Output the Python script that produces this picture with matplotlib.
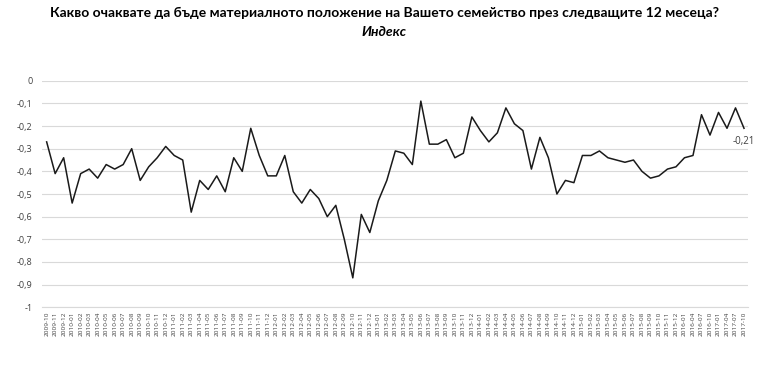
import matplotlib
matplotlib.use("Agg")
import matplotlib.pyplot as plt
from matplotlib.ticker import FuncFormatter

# monthly 2009-10 .. 2016-01, then quarterly to 2017-10
months = []
for y in range(2009, 2017):
    for m in range(1, 13):
        if (y == 2009 and m < 10) or (y == 2016 and m > 1):
            continue
        months.append(f"{y}-{m:02d}")
months += ["2016-04", "2016-07", "2016-10", "2017-01", "2017-04", "2017-07", "2017-10"]

index_values = [
    -0.27, -0.41, -0.34, -0.54, -0.41, -0.39, -0.43, -0.37, -0.39, -0.37,
    -0.30, -0.44, -0.38, -0.34, -0.29, -0.33, -0.35, -0.58, -0.44, -0.48,
    -0.42, -0.49, -0.34, -0.40, -0.21, -0.33, -0.42, -0.42, -0.33, -0.49,
    -0.54, -0.48, -0.52, -0.60, -0.55, -0.70, -0.87, -0.59, -0.67, -0.53,
    -0.44, -0.31, -0.32, -0.37, -0.09, -0.28, -0.28, -0.26, -0.34, -0.32,
    -0.16, -0.22, -0.27, -0.23, -0.12, -0.19, -0.22, -0.39, -0.25, -0.34,
    -0.50, -0.44, -0.45, -0.33, -0.33, -0.31, -0.34, -0.35, -0.36, -0.35,
    -0.40, -0.43, -0.42, -0.39, -0.38, -0.34, -0.33, -0.15, -0.24, -0.14,
    -0.21, -0.12, -0.21,
]

title = "Какво очаквате да бъде материалното положение на Вашето семейство през следващите 12 месеца?"
subtitle = "Индекс"

plt.rcParams["font.family"] = ["Open Sans", "DejaVu Sans"]

fig = plt.figure(figsize=(7.68, 3.75), dpi=100)
ax = fig.add_axes([0.0552, 0.1805, 0.9191, 0.6043])

x = list(range(len(months)))
ax.plot(x, index_values, color="#1a1a1a", linewidth=1.1)

ax.set_xlim(-0.5, len(months) - 0.5)
ax.set_ylim(-1, 0)
ax.set_yticks([-i / 10 for i in range(11)])
ax.yaxis.set_major_formatter(FuncFormatter(lambda v, _: "0" if abs(v) < 1e-9 else (f"{v:g}".replace(".", ","))))
ax.set_xticks(x)
ax.set_xticklabels(months, rotation=90, fontsize=4.6, color="#404040")
ax.tick_params(axis="y", labelsize=6.5, colors="#404040", length=0, pad=7)
ax.tick_params(axis="x", length=0, pad=3)

ax.grid(axis="y", color="#d9d9d9", linewidth=0.8)
ax.set_axisbelow(True)
for s in ["top", "right", "left"]:
    ax.spines[s].set_visible(False)
ax.spines["bottom"].set_color("#d9d9d9")

ax.annotate(f"{index_values[-1]:.2f}".replace(".", ","), (x[-1], index_values[-1]),
            xytext=(0, -11), textcoords="offset points", ha="center", fontsize=7, color="#404040")

fig.text(0.5, 0.966, title, ha="center", va="center", fontsize=10, fontweight="bold",
         family=["Lato", "DejaVu Sans"])
fig.text(0.5, 0.915, subtitle, ha="center", va="center", fontsize=10, fontweight="bold", style="italic",
         family=["Lato", "DejaVu Sans"])

fig.savefig("out.png", dpi=100)
